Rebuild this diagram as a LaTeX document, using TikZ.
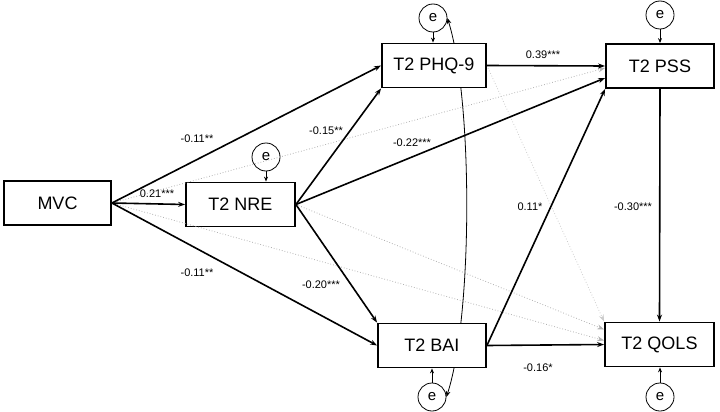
\documentclass[tikz,border=0pt]{standalone}
\usepackage{fontspec}
\setmainfont{Liberation Sans}
\usetikzlibrary{arrows.meta,calc}
\begin{document}
\begin{tikzpicture}[x=1pt,y=-1pt,
  box/.style={draw,line width=1.8pt,minimum height=44pt,inner sep=0pt,font=\fontsize{18}{20}\selectfont},
  err/.style={draw,circle,line width=0.8pt,minimum size=28pt,inner sep=0pt,font=\fontsize{15}{16}\selectfont},
  path/.style={line width=1.6pt,-{Stealth[length=7pt,width=5pt]}},
  ns/.style={draw=gray!60,line width=0.8pt,dotted,-{Stealth[length=7pt,width=5pt]}},
  nsl/.style={draw=gray!40,line width=0.8pt,dotted,-{Stealth[length=7pt,width=5pt]}},
  erra/.style={line width=1pt,-{Stealth[length=5pt,width=4pt]}},
  lab/.style={font=\fontsize{11}{12}\selectfont,inner sep=1pt}]
\useasboundingbox (0,0) rectangle (720,412);
% boxes
\node[box,minimum width=107pt] (MVC) at (57.5,203) {MVC};
\node[box,minimum width=109pt] (NRE) at (240.5,204.5) {T2 NRE};
\node[box,minimum width=104pt] (PHQ) at (434,65.5) {T2 PHQ-9};
\node[box,minimum width=108pt] (PSS) at (660,66) {T2 PSS};
\node[box,minimum width=108pt] (BAI) at (432,345.5) {T2 BAI};
\node[box,minimum width=109pt] (QOLS) at (659.5,344.5) {T2 QOLS};
% error terms
\node[err] (eNRE) at (266,157) {e};
\node[err] (ePHQ) at (433,18) {e};
\node[err] (ePSS) at (660,15) {e};
\node[err] (eBAI) at (432,397) {e};
\node[err] (eQOLS) at (660,397) {e};
% anchor points
\coordinate (PSSlow) at ($(PSS.west)+(0,12)$);
\coordinate (PSSmid) at ($(PSS.west)+(0,2)$);
\coordinate (QOLSa) at ($(QOLS.west)+(0,-15)$);
\coordinate (QOLSb) at ($(QOLS.west)+(0,-4)$);
% nonsignificant paths
\draw[ns] (MVC.east) -- (PSSmid);
\draw[ns] (MVC.east) -- (QOLSb);
\draw[ns] (NRE.east) -- (QOLSa);
\draw[nsl] (PHQ.east) -- (QOLS.north west);
% covariance
\draw[line width=0.8pt,{Stealth[length=6pt,width=4.5pt]}-{Stealth[length=6pt,width=4.5pt]}]
  (ePHQ.east) .. controls (473,100) and (473,315) .. (eBAI.east);
% redraw boxes on top of covariance
\node[box,minimum width=104pt,fill=white] at (PHQ) {T2 PHQ-9};
\node[box,minimum width=108pt,fill=white] at (BAI) {T2 BAI};
% significant paths
\draw[path] (MVC.east) -- (PHQ.west);
\draw[path] (MVC.east) -- (NRE.west);
\draw[path] (MVC.east) -- (BAI.west);
\draw[path] (NRE.east) -- (PHQ.south west);
\draw[path] (NRE.east) -- (PSSlow);
\draw[path] (NRE.east) -- (BAI.north west);
\draw[path] (PHQ.east) -- (PSS.west);
\draw[path] (BAI.east) -- (PSS.south west);
\draw[path] (BAI.east) -- (QOLS.west);
\draw[path] (PSS.south) -- (QOLS.north);
% error arrows
\draw[erra] (eNRE.south) -- (eNRE.south |- NRE.north);
\draw[erra] (ePHQ.south) -- (ePHQ.south |- PHQ.north);
\draw[erra] (ePSS.south) -- (ePSS.south |- PSS.north);
\draw[erra] (eBAI.north) -- (eBAI.north |- BAI.south);
\draw[erra] (eQOLS.north) -- (eQOLS.north |- QOLS.south);
% labels
\node[lab] (l1) at (197,139) {-0.11**};
\node[lab] (l2) at (157,194) {0.21***};
\node[lab] (l3) at (197,273) {-0.11**};
\node[lab] (l4) at (326,131) {-0.15**};
\node[lab] (l5) at (412,143) {-0.22***};
\node[lab] (l6) at (543,55) {0.39***};
\node[lab] (l7) at (530,207) {0.11*};
\node[lab] (l8) at (321,285) {-0.20***};
\node[lab] (l9) at (538,368) {-0.16*};
\node[lab] (l10) at (633,207) {-0.30***};
\end{tikzpicture}
\end{document}
